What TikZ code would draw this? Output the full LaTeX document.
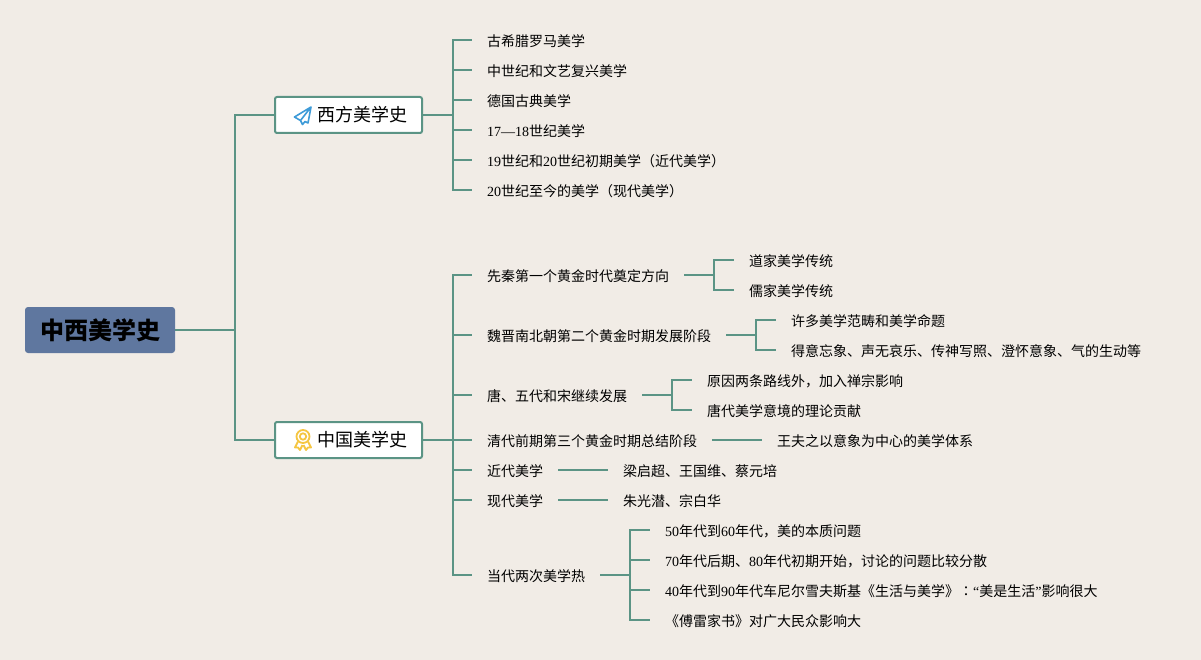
\documentclass[tikz,border=0pt]{standalone}
\usepackage{fontspec}
\setmainfont{Noto Sans CJK SC}
\newfontfamily\lat{Liberation Serif}
\newfontfamily\tcfont{Noto Sans CJK TC}
\definecolor{paper}{HTML}{F1ECE6}
\definecolor{linegreen}{HTML}{5B9485}
\definecolor{rootblue}{HTML}{5F779F}
\definecolor{planeblue}{HTML}{3E9BD8}
\definecolor{medalgold}{HTML}{F5C642}
\tikzset{
  rootbox/.style={fill=rootblue, rounded corners=3pt, minimum width=150pt, minimum height=46pt, inner sep=0pt, font=\fontsize{24}{28}\selectfont\bfseries},
  branchbox/.style={draw=linegreen, fill=white, line width=2pt, rounded corners=2pt, minimum width=147pt, minimum height=36pt, inner sep=0pt, font=\fontsize{18}{22}\selectfont},
  leaf/.style={anchor=west, inner sep=0pt, text height=15pt, text depth=2pt, font=\fontsize{14}{16}\selectfont},
  link/.style={draw=linegreen, line width=2pt},
  tolist/.style={link, shorten >=15pt},
  totext/.style={link, shorten <=15pt, shorten >=15pt}
}
\begin{document}
\begin{tikzpicture}[x=1pt, y=-1pt]
  \useasboundingbox (0,0) rectangle (1201,660);
  \fill[paper] (0,0) rectangle (1201,660);
  \node[rootbox] (root) at (100,330) {\raisebox{-0.5pt}{\kern1pt 中西美学史}};
  \node[branchbox] (west) at (348.5,115) {\hspace*{28pt}西方美学史};
  \node[branchbox] (china) at (348.5,440) {\hspace*{28pt}中国美学史};
  \draw[link] (root.east) -- ++(60,0) |- (west.west);
  \draw[link] (root.east) -- ++(60,0) |- (china.west);
  % paper plane
  \draw[planeblue, line width=1.6pt, line join=round] (311,107) -- (294.5,117) -- (300.5,120.5) -- (302.5,124.5) -- (305,121.5) -- (308,123) -- cycle (311,107) -- (300.5,120.5);
  % medal
  \draw[medalgold, line width=1.8pt] (303,436.5) circle (6.5) (303,436.5) circle (3.2);
  \draw[medalgold, line width=1.8pt, line join=round] (298,441.5) -- (295,447.5) -- (298,447.5) -- (300,450) -- (302.5,445) (308,441.5) -- (311,447.5) -- (308,447.5) -- (306,450) -- (303.5,445);
  % western list
  \node[leaf] (w1) at (487,40) {古希腊罗马美学};
  \node[leaf] (w2) at (487,70) {中世纪和文艺复兴美学};
  \node[leaf] (w3) at (487,100) {德国古典美学};
  \node[leaf] (w4) at (487,130) {{\lat 17—18}世纪美学};
  \node[leaf] (w5) at (487,160) {{\lat 19}世纪和{\lat 20}世纪初期美学（近代美学）};
  \node[leaf] (w6) at (487,190) {{\lat 20}世纪至今的美学（现代美学）};
  \foreach \n in {w1,w2,w3,w4,w5,w6}
    \draw[tolist] (west.east) -- ++(30,0) |- (\n.west);
  % chinese list
  \node[leaf] (c1) at (487,275) {先秦第一个黄金时代奠定方向};
  \node[leaf] (c2) at (487,335) {魏晋南北朝第二个黄金时期发展阶段};
  \node[leaf] (c3) at (487,395) {唐、五代和宋继续发展};
  \node[leaf] (c4) at (487,440) {清代前期第三个黄金时期总结阶段};
  \node[leaf] (c5) at (487,470) {近代美学};
  \node[leaf] (c6) at (487,500) {现代美学};
  \node[leaf] (c7) at (487,575) {当代两次美学热};
  \foreach \n in {c1,c2,c3,c4,c5,c6,c7}
    \draw[tolist] (china.east) -- ++(30,0) |- (\n.west);
  % third level
  \node[leaf] (c11) at (749,260) {道家美学传统};
  \node[leaf] (c12) at (749,290) {儒家美学传统};
  \draw[totext] (c1.east) -- ++(45,0) |- (c11.west);
  \draw[totext] (c1.east) -- ++(45,0) |- (c12.west);
  \node[leaf] (c21) at (791,320) {许多美学范畴和美学命题};
  \node[leaf] (c22) at (791,350) {得意忘象、声无哀乐、传神写照、澄怀意象、气的生动等};
  \draw[totext] (c2.east) -- ++(45,0) |- (c21.west);
  \draw[totext] (c2.east) -- ++(45,0) |- (c22.west);
  \node[leaf] (c31) at (707,380) {原因两条路线外，加入禅宗影响};
  \node[leaf] (c32) at (707,410) {唐代美学意境的理论贡献};
  \draw[totext] (c3.east) -- ++(45,0) |- (c31.west);
  \draw[totext] (c3.east) -- ++(45,0) |- (c32.west);
  \node[leaf] (c41) at (777,440) {王夫之以意象为中心的美学体系};
  \draw[totext] (c4.east) -- (c41.west);
  \node[leaf] (c51) at (623,470) {梁启超、王国维、蔡元培};
  \draw[totext] (c5.east) -- (c51.west);
  \node[leaf] (c61) at (623,500) {朱光潜、宗白华};
  \draw[totext] (c6.east) -- (c61.west);
  \node[leaf] (c71) at (665,530) {{\lat 50}年代到{\lat 60}年代，美的本质问题};
  \node[leaf] (c72) at (665,560) {{\lat 70}年代后期、{\lat 80}年代初期开始，讨论的问题比较分散};
  \node[leaf] (c73) at (665,590) {{\lat 40}年代到{\lat 90}年代车尼尔雪夫斯基《生活与美学》{\tcfont ：}{\lat “}美是生活{\lat ”}影响很大};
  \node[leaf] (c74) at (665,620) {《傅雷家书》对广大民众影响大};
  \foreach \n in {c71,c72,c73,c74}
    \draw[totext] (c7.east) -- ++(45,0) |- (\n.west);
\end{tikzpicture}
\end{document}
